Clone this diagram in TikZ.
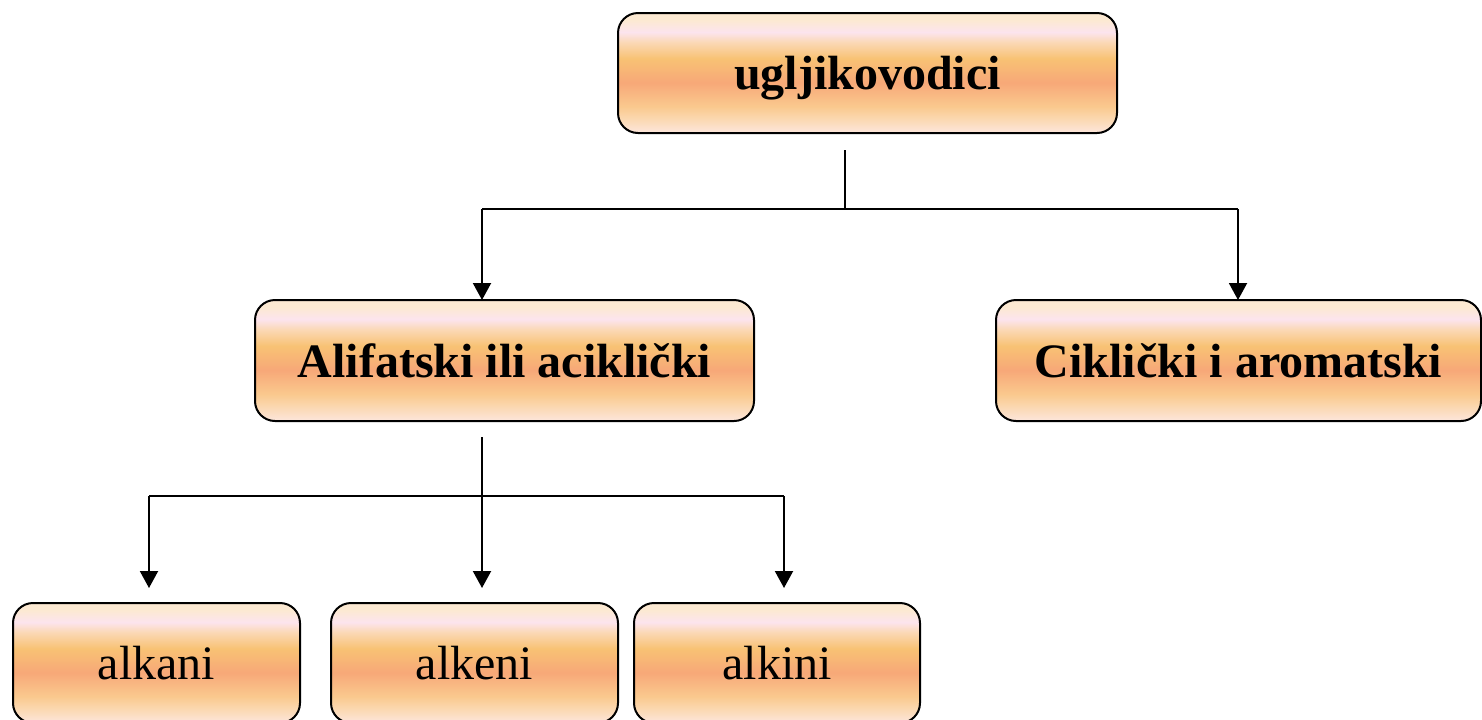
\documentclass[tikz,border=0pt]{standalone}
\usepackage{fontspec}
\setmainfont{Liberation Serif}
\usetikzlibrary{arrows.meta}

\definecolor{pb1}{HTML}{FCE9D2}
\definecolor{pb2}{HTML}{FCE4EE}
\definecolor{pb2b}{HTML}{FBD9B8}
\definecolor{pb3}{HTML}{F8C274}
\definecolor{pb4}{HTML}{F7A878}
\definecolor{pb5}{HTML}{FAC98E}
\definecolor{pb5b}{HTML}{FBD8B0}
\definecolor{pb6}{HTML}{FCE6DC}

% banded peach gradient used inside every box (stops lie in the 25bp-75bp window)
\pgfdeclareverticalshading{peachband}{100bp}{%
  color(0bp)=(pb6);
  color(25bp)=(pb6);
  color(31bp)=(pb5b);
  color(36bp)=(pb5);
  color(46bp)=(pb4);
  color(56bp)=(pb3);
  color(63bp)=(pb2b);
  color(67bp)=(pb2);
  color(72bp)=(pb1);
  color(100bp)=(pb1)}

\tikzset{
  box/.style={draw=black, line width=1pt, rounded corners=10pt,
    shading=peachband, inner sep=0pt, text depth=0pt,
    font=\fontsize{24}{28}\selectfont},
  headbox/.style={box, font=\fontsize{24}{28}\selectfont\bfseries},
  link/.style={draw=black, line width=1pt},
  arrowlink/.style={link, -{Triangle[width=9pt,length=8.5pt]}}
}

\begin{document}
\begin{tikzpicture}[x=0.5pt, y=-0.5pt]
  \useasboundingbox (0,0) rectangle (1482,719);
  \clip (0,0) rectangle (1482,719);

  % boxes
  \node[headbox, minimum width=249.5pt, minimum height=60pt] (top) at (867.5,73) {ugljikovodici};
  \node[headbox, minimum width=249.5pt, minimum height=60.5pt] (alif) at (504.5,360.5) {Alifatski ili aciklički};
  \node[headbox, minimum width=242.5pt, minimum height=60.5pt] (cikl) at (1238.5,360.5) {Ciklički i aromatski};
  \node[box, minimum width=143.5pt, minimum height=60pt] (alkani) at (156.5,663) {alkani};
  \node[box, minimum width=143.5pt, minimum height=60pt] (alkeni) at (474.5,663) {alkeni};
  \node[box, minimum width=143pt, minimum height=60pt] (alkini) at (777,663) {alkini};

  % junction points of the tree
  \coordinate (s1) at (845,150);
  \coordinate (h1) at (845,209);
  \coordinate (h1l) at (482,209);
  \coordinate (h1r) at (1238,209);
  \coordinate (e1l) at (482,300);
  \coordinate (e1r) at (1238,300);

  \coordinate (s2) at (482,437);
  \coordinate (h2l) at (149,496);
  \coordinate (h2r) at (784,496);
  \coordinate (e2l) at (149,588);
  \coordinate (e2m) at (482,588);
  \coordinate (e2r) at (784,588);

  % first level
  \draw[link] (s1) -- (h1);
  \draw[link] (h1l) -- (h1r);
  \draw[arrowlink] (h1l) -- (e1l);
  \draw[arrowlink] (h1r) -- (e1r);

  % second level
  \draw[link] (h2l) -- (h2r);
  \draw[arrowlink] (s2) -- (e2m);
  \draw[arrowlink] (h2l) -- (e2l);
  \draw[arrowlink] (h2r) -- (e2r);
\end{tikzpicture}
\end{document}
